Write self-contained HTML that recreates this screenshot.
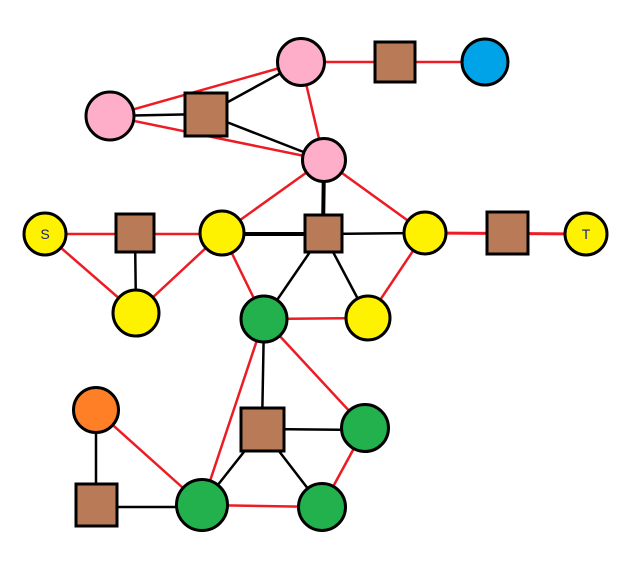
<!DOCTYPE html>
<html><head><style>html,body{margin:0;padding:0;background:#fff;width:641px;height:581px;overflow:hidden}</style></head>
<body>
<svg width="641" height="581" xmlns="http://www.w3.org/2000/svg">
<g stroke="#ed1c24" stroke-width="2.5" fill="none">
<line x1="110" y1="116" x2="301" y2="62"/>
<line x1="110" y1="116" x2="324" y2="160"/>
<line x1="301" y1="62" x2="324" y2="160"/>
<line x1="301" y1="62" x2="485" y2="62"/>
<line x1="324" y1="160" x2="222" y2="233"/>
<line x1="324" y1="160" x2="425" y2="233"/>
<line x1="45" y1="234" x2="222" y2="234"/>
<line x1="45" y1="234" x2="136" y2="313"/>
<line x1="136" y1="313" x2="222" y2="233"/>
<line x1="222" y1="233" x2="264" y2="319"/>
<line x1="425" y1="233" x2="368" y2="318"/>
<line x1="425" y1="233" x2="586" y2="234" stroke-width="3"/>
<line x1="264" y1="319" x2="368" y2="318"/>
<line x1="264" y1="319" x2="202" y2="505"/>
<line x1="264" y1="319" x2="365" y2="428"/>
<line x1="96" y1="410" x2="202" y2="505"/>
<line x1="202" y1="505" x2="322" y2="507"/>
<line x1="322" y1="507" x2="365" y2="428"/>
</g>
<g stroke="#000" stroke-width="2.5" fill="none">
<line x1="110" y1="116" x2="206" y2="114"/>
<line x1="206" y1="114" x2="301" y2="62"/>
<line x1="206" y1="114" x2="324" y2="160"/>
<line x1="324" y1="160" x2="323" y2="233" stroke-width="4"/>
<line x1="222" y1="234" x2="323" y2="234" stroke-width="4"/>
<line x1="323" y1="234" x2="425" y2="233"/>
<line x1="323" y1="233" x2="264" y2="319"/>
<line x1="323" y1="233" x2="368" y2="318"/>
<line x1="135" y1="233" x2="136" y2="313"/>
<line x1="264" y1="319" x2="262" y2="429"/>
<line x1="262" y1="429" x2="365" y2="430"/>
<line x1="262" y1="429" x2="202" y2="505"/>
<line x1="262" y1="429" x2="322" y2="507"/>
<line x1="96" y1="410" x2="96" y2="505"/>
<line x1="96" y1="507" x2="202" y2="507"/>
</g>
<g stroke="#000" stroke-width="3">
<circle cx="301" cy="62" r="23.5" fill="#ffaec9"/>
<circle cx="110" cy="116" r="24" fill="#ffaec9"/>
<circle cx="324" cy="160" r="21.5" fill="#ffaec9"/>
<circle cx="485" cy="62" r="23" fill="#00a2e8"/>
<circle cx="45" cy="234" r="21" fill="#fff200"/>
<circle cx="222" cy="233" r="22" fill="#fff200"/>
<circle cx="425" cy="233" r="21" fill="#fff200"/>
<circle cx="586" cy="234" r="21" fill="#fff200"/>
<circle cx="136" cy="313" r="23" fill="#fff200"/>
<circle cx="368" cy="318" r="22" fill="#fff200"/>
<circle cx="264" cy="319" r="23" fill="#22b14c"/>
<circle cx="365" cy="428" r="23.5" fill="#22b14c"/>
<circle cx="202" cy="505" r="25.5" fill="#22b14c"/>
<circle cx="322" cy="507" r="23.5" fill="#22b14c"/>
<circle cx="96" cy="410" r="22.5" fill="#ff7f27"/>
<rect x="375" y="42" width="40" height="40" fill="#b97a57"/>
<rect x="185" y="93" width="42" height="43" fill="#b97a57"/>
<rect x="116" y="214" width="38" height="38" fill="#b97a57"/>
<rect x="305" y="215" width="37" height="37" fill="#b97a57"/>
<rect x="487" y="212" width="41" height="42" fill="#b97a57"/>
<rect x="241" y="408" width="43" height="43" fill="#b97a57"/>
<rect x="76" y="484" width="41" height="42" fill="#b97a57"/>
</g>
<text x="45" y="239" font-family="Liberation Sans, sans-serif" font-size="14" fill="#1a237e" text-anchor="middle">S</text>
<text x="586" y="239" font-family="Liberation Sans, sans-serif" font-size="14" fill="#1a237e" text-anchor="middle">T</text>
</svg>
</body></html>
